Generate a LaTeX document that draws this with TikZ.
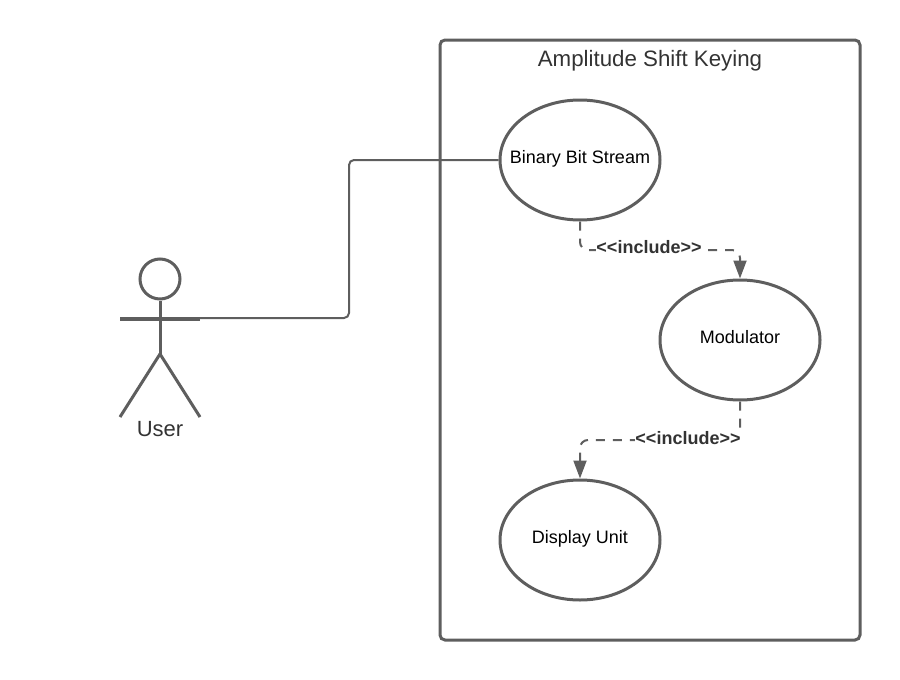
\documentclass[tikz,border=0pt]{standalone}
\usepackage{fontspec}
\setmainfont{Liberation Sans}
\usetikzlibrary{shapes.geometric, arrows.meta}
\definecolor{linegrey}{HTML}{5E5E5E}
\definecolor{textgrey}{HTML}{333333}

\tikzset{
	usecase/.style={ellipse, draw=linegrey, line width=3pt, minimum width=160pt, minimum height=120pt, inner xsep=-40pt, inner ysep=0pt, text height=12pt, text depth=6pt, font=\fontsize{18}{21}\selectfont, text=black},
	limb/.style={draw=linegrey, line width=3pt},
	assoc/.style={draw=linegrey, line width=2pt, rounded corners=5pt},
	incl/.style={draw=linegrey, line width=2pt, rounded corners=8pt, dash pattern=on 9pt off 8pt, -{Triangle[length=18pt, width=13pt]}},
	incllabel/.style={fill=white, inner sep=0.5pt, text=textgrey, font=\bfseries\fontsize{18}{21}\selectfont}
}

\begin{document}
\begin{tikzpicture}[x=1pt, y=-1pt]
	\useasboundingbox (0,0) rectangle (900,680);
	\node[draw=linegrey, line width=3pt, rounded corners=5pt, minimum width=420pt, minimum height=600pt, inner sep=0pt](system) at (650,340){};
	\node[text=textgrey, font=\fontsize{22.3}{26}\selectfont](title) at (650,61){Amplitude Shift Keying};

	\node[usecase, fill=white](binary) at (580,160){Binary Bit Stream};
	\node[usecase](modulator) at (740,340){Modulator};
	\node[usecase](display) at (580,540){Display Unit};

	\node[circle, limb, minimum size=40pt, inner sep=0pt](head) at (160,279){};
	\coordinate (hip) at (160,354);
	\coordinate (armL) at (120,319);
	\coordinate (armR) at (200,319);
	\coordinate (footL) at (120,417);
	\coordinate (footR) at (200,417);
	\node[text=textgrey, font=\fontsize{22}{26}\selectfont](user) at (160,429){User};

	\path[limb] (head) -- (hip);
	\path[limb, line width=3.5pt] (armL) -- (armR);
	\path[limb, line join=round] (footL) -- (hip) -- (footR);

	% user to first use case
	\coordinate (wire) at (349,240);
	\path[assoc] (armR) ++(-1,-1) -| (wire) |- (binary.west);

	\coordinate (bendA) at (660,250);
	\coordinate (bendB) at (660,440);
	\path[incl] (binary.south) |- (bendA) -| (modulator.north);
	\path[incl] (modulator.south) |- (bendB) -| (display.north);
	\node[incllabel](inclA) at (649,247){{<}{<}include{>}{>}};
	\node[incllabel](inclB) at (688,438){{<}{<}include{>}{>}};
\end{tikzpicture}
\end{document}
